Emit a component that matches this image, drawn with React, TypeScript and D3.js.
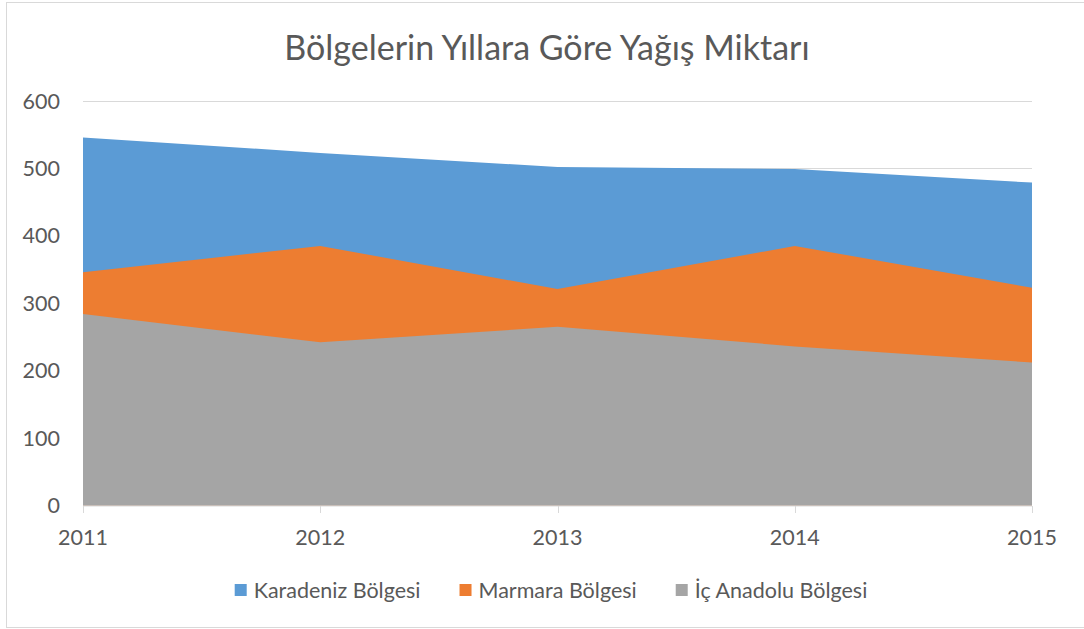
import React, { useEffect, useRef } from "react";
import * as d3 from "d3";

const years = ["2011", "2012", "2013", "2014", "2015"];
const karadeniz = [546, 523, 502, 499, 479];
const marmara = [346, 385, 321, 385, 323];
const icAnadolu = [284, 242, 265, 236, 212];
const yTicks = [0, 100, 200, 300, 400, 500, 600];
const seriesNames = ["Karadeniz Bölgesi", "Marmara Bölgesi", "İç Anadolu Bölgesi"];
const seriesColors = ["#5b9bd5", "#ed7d31", "#a5a5a5"];
const title = "Bölgelerin Yıllara Göre Yağış Miktarı";

const W = 1084;
const H = 629;
const FONT = "Lato, 'Open Sans', sans-serif";

export default function App() {
  const ref = useRef<SVGSVGElement>(null);

  useEffect(() => {
    const svg = d3.select(ref.current);
    svg.selectAll("*").remove();

    svg.append("rect")
      .attr("x", 6.5).attr("y", 2.5)
      .attr("width", W + 10).attr("height", 625)
      .attr("fill", "#fff").attr("stroke", "#d9d9d9").attr("stroke-width", 1);

    const x = d3.scalePoint<string>().domain(years).range([83, 1032]);
    const y = d3.scaleLinear().domain([0, 600]).range([505.5, 101]);

    // gridlines
    svg.append("g").selectAll("line").data(yTicks.filter(t => t > 0)).join("line")
      .attr("x1", 83).attr("x2", 1032)
      .attr("y1", d => Math.round(y(d)) + 0.5).attr("y2", d => Math.round(y(d)) + 0.5)
      .attr("stroke", "#d9d9d9").attr("stroke-width", 1);

    const all = [karadeniz, marmara, icAnadolu];
    all.forEach((vals, i) => {
      const area = d3.area<number>()
        .x((_, j) => x(years[j])!)
        .y0(y(0))
        .y1(d => y(d));
      svg.append("path").attr("d", area(vals)!).attr("fill", seriesColors[i]);
    });

    // x axis line and ticks
    svg.append("line").attr("x1", 83).attr("x2", 1032).attr("y1", 506).attr("y2", 506)
      .attr("stroke", "#d9d9d9").attr("stroke-width", 1);
    svg.append("g").selectAll("line").data(years).join("line")
      .attr("x1", d => Math.round(x(d)!) + 0.5).attr("x2", d => Math.round(x(d)!) + 0.5)
      .attr("y1", 506).attr("y2", 513)
      .attr("stroke", "#d9d9d9").attr("stroke-width", 1);

    svg.append("g").selectAll("text").data(years).join("text")
      .attr("x", d => x(d)!).attr("y", 544.5)
      .attr("text-anchor", "middle")
      .attr("font-family", FONT).attr("font-size", 21.5).attr("fill", "#595959")
      .text(d => d);

    svg.append("g").selectAll("text").data(yTicks).join("text")
      .attr("x", 60).attr("y", d => y(d) + 7.5)
      .attr("text-anchor", "end")
      .attr("font-family", FONT).attr("font-size", 21.5).attr("fill", "#595959")
      .text(d => d);

    svg.append("text").attr("x", 547).attr("y", 59.5).attr("text-anchor", "middle")
      .attr("font-family", FONT).attr("font-size", 34).attr("fill", "#595959")
      .text(title);

    // legend
    const lg = svg.append("g");
    const items = seriesNames.map((name, i) => {
      const g = lg.append("g");
      g.append("rect").attr("x", 0).attr("y", 584).attr("width", 12).attr("height", 12)
        .attr("fill", seriesColors[i]);
      const t = g.append("text").attr("x", 19).attr("y", 597.5)
        .attr("font-family", FONT).attr("font-size", 21.5).attr("fill", "#595959")
        .text(name);
      const w = 19 + (t.node() as SVGTextElement).getComputedTextLength();
      return { g, w };
    });
    const gap = 39;
    const total = items.reduce((s, it) => s + it.w, 0) + gap * (items.length - 1);
    let cx = 551 - total / 2;
    items.forEach(it => {
      it.g.attr("transform", `translate(${cx},0)`);
      cx += it.w + gap;
    });
  }, []);

  return (
    <svg ref={ref} width={W} height={H}
      style={{ position: "absolute", left: 0, top: 0, background: "#fff" }} />
  );
}
